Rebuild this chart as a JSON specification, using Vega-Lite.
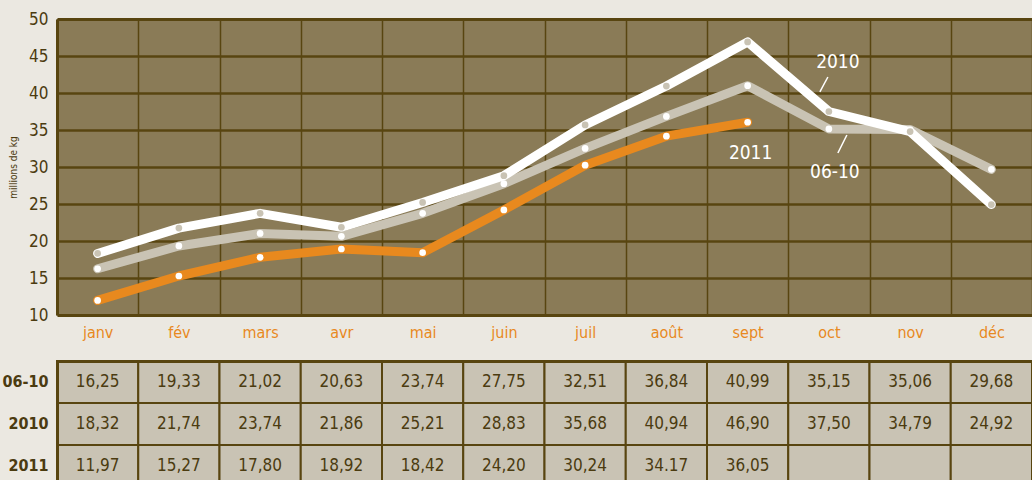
{
  "$schema": "https://vega.github.io/schema/vega-lite/v6.json",
  "background": "#ebe8e1",
  "padding": {"left": 1, "top": 10, "right": 0, "bottom": 0},
  "spacing": 46,
  "bounds": "flush",
  "config": {
    "view": {"stroke": null},
    "font": "DejaVu Sans Condensed, sans-serif"
  },
  "datasets": {
    "d": [
      {"month": "janv", "series": "06-10", "value": 16.25, "label": "16,25"},
      {"month": "fév", "series": "06-10", "value": 19.33, "label": "19,33"},
      {"month": "mars", "series": "06-10", "value": 21.02, "label": "21,02"},
      {"month": "avr", "series": "06-10", "value": 20.63, "label": "20,63"},
      {"month": "mai", "series": "06-10", "value": 23.74, "label": "23,74"},
      {"month": "juin", "series": "06-10", "value": 27.75, "label": "27,75"},
      {"month": "juil", "series": "06-10", "value": 32.51, "label": "32,51"},
      {"month": "août", "series": "06-10", "value": 36.84, "label": "36,84"},
      {"month": "sept", "series": "06-10", "value": 40.99, "label": "40,99"},
      {"month": "oct", "series": "06-10", "value": 35.15, "label": "35,15"},
      {"month": "nov", "series": "06-10", "value": 35.06, "label": "35,06"},
      {"month": "déc", "series": "06-10", "value": 29.68, "label": "29,68"},
      {"month": "janv", "series": "2010", "value": 18.32, "label": "18,32"},
      {"month": "fév", "series": "2010", "value": 21.74, "label": "21,74"},
      {"month": "mars", "series": "2010", "value": 23.74, "label": "23,74"},
      {"month": "avr", "series": "2010", "value": 21.86, "label": "21,86"},
      {"month": "mai", "series": "2010", "value": 25.21, "label": "25,21"},
      {"month": "juin", "series": "2010", "value": 28.83, "label": "28,83"},
      {"month": "juil", "series": "2010", "value": 35.68, "label": "35,68"},
      {"month": "août", "series": "2010", "value": 40.94, "label": "40,94"},
      {"month": "sept", "series": "2010", "value": 46.90, "label": "46,90"},
      {"month": "oct", "series": "2010", "value": 37.50, "label": "37,50"},
      {"month": "nov", "series": "2010", "value": 34.79, "label": "34,79"},
      {"month": "déc", "series": "2010", "value": 24.92, "label": "24,92"},
      {"month": "janv", "series": "2011", "value": 11.97, "label": "11,97"},
      {"month": "fév", "series": "2011", "value": 15.27, "label": "15,27"},
      {"month": "mars", "series": "2011", "value": 17.80, "label": "17,80"},
      {"month": "avr", "series": "2011", "value": 18.92, "label": "18,92"},
      {"month": "mai", "series": "2011", "value": 18.42, "label": "18,42"},
      {"month": "juin", "series": "2011", "value": 24.20, "label": "24,20"},
      {"month": "juil", "series": "2011", "value": 30.24, "label": "30,24"},
      {"month": "août", "series": "2011", "value": 34.17, "label": "34.17"},
      {"month": "sept", "series": "2011", "value": 36.05, "label": "36,05"},
      {"month": "oct", "series": "2011", "value": null, "label": ""},
      {"month": "nov", "series": "2011", "value": null, "label": ""},
      {"month": "déc", "series": "2011", "value": null, "label": ""}
    ]
  },
  "vconcat": [
    {
      "width": 975,
      "height": 296,
      "view": {"fill": "#8a7b57", "stroke": null},
      "data": {"name": "d"},
      "encoding": {
        "x": {
          "field": "month",
          "type": "nominal",
          "scale": {"domain": ["janv","fév","mars","avr","mai","juin","juil","août","sept","oct","nov","déc"], "paddingInner": 0, "paddingOuter": 0},
          "axis": {
            "title": null, "orient": "bottom", "grid": true, "tickBand": "extent",
            "gridColor": "#584510", "gridWidth": 1.5, "ticks": false, "domain": false,
            "labelColor": "#e8891e", "labelFontSize": 16, "labelFontWeight": 500, "labelPadding": 9, "labelAngle": 0
          }
        },
        "y": {
          "field": "value",
          "type": "quantitative",
          "scale": {"domain": [10, 50], "nice": false, "zero": false},
          "axis": {
            "values": [10, 15, 20, 25, 30, 35, 40, 45, 50],
            "grid": true, "gridColor": "#584510",
            "gridWidth": {"condition": {"test": "datum.value === 10 || datum.value === 50", "value": 3}, "value": 2.5},
            "domain": true, "domainColor": "#584510", "domainWidth": 3,
            "ticks": false, "labelFontSize": 17, "labelColor": "#4b3b10", "labelPadding": 9,
            "title": "millions de kg", "titleFontSize": 10, "titleFontWeight": "normal",
            "titleColor": "#4b3b10", "titlePadding": 10
          }
        }
      },
      "layer": [
        {"transform": [{"filter": "datum.series === '06-10'"}], "mark": {"type": "line", "color": "#c9c3b4", "strokeWidth": 9, "strokeCap": "round", "strokeJoin": "round"}},
        {"transform": [{"filter": "datum.series === '06-10'"}], "mark": {"type": "circle", "color": "#ffffff", "size": 45, "opacity": 1}},
        {"transform": [{"filter": "datum.series === '2010'"}], "mark": {"type": "line", "color": "#ffffff", "strokeWidth": 9, "strokeCap": "round", "strokeJoin": "round"}},
        {"transform": [{"filter": "datum.series === '2010'"}], "mark": {"type": "circle", "color": "#c9c3b4", "size": 45, "opacity": 1}},
        {"transform": [{"filter": "datum.series === '2011' && datum.value != null"}], "mark": {"type": "line", "color": "#e8891e", "strokeWidth": 9, "strokeCap": "round", "strokeJoin": "round"}},
        {"transform": [{"filter": "datum.series === '2011' && datum.value != null"}], "mark": {"type": "circle", "color": "#ffffff", "size": 45, "opacity": 1}},
        {"data": {"values": [{"month": "oct", "value": 44.2, "label": "2010"}]}, "mark": {"type": "text", "color": "#ffffff", "fontSize": 19, "dx": 9}, "encoding": {"text": {"field": "label"}}},
        {"data": {"values": [{"month": "oct", "value": 29.3, "label": "06-10"}]}, "mark": {"type": "text", "color": "#ffffff", "fontSize": 19, "dx": 6}, "encoding": {"text": {"field": "label"}}},
        {"data": {"values": [{"month": "sept", "value": 31.9, "label": "2011"}]}, "mark": {"type": "text", "color": "#ffffff", "fontSize": 19, "dx": 3}, "encoding": {"text": {"field": "label"}}},
        {"data": {"values": [{"month": "oct", "value": 42.16, "value2": 40.14}]}, "mark": {"type": "rule", "color": "#ffffff", "strokeWidth": 1.5, "xOffset": -1, "x2Offset": -9}, "encoding": {"x": {"field": "month", "type": "nominal", "bandPosition": 0.5}, "x2": {"field": "month", "bandPosition": 0.5}, "y2": {"field": "value2"}}},
        {"data": {"values": [{"month": "oct", "value": 34.32, "value2": 31.89}]}, "mark": {"type": "rule", "color": "#ffffff", "strokeWidth": 1.5, "xOffset": 18, "x2Offset": 9}, "encoding": {"x": {"field": "month", "type": "nominal", "bandPosition": 0.5}, "x2": {"field": "month", "bandPosition": 0.5}, "y2": {"field": "value2"}}}
      ]
    },
    {
      "width": 975,
      "height": 126,
      "view": {"fill": "#c9c3b4", "stroke": null},
      "data": {"name": "d"},
      "encoding": {
        "x": {
          "field": "month",
          "type": "nominal",
          "scale": {"domain": ["janv","fév","mars","avr","mai","juin","juil","août","sept","oct","nov","déc"], "paddingInner": 0, "paddingOuter": 0},
          "axis": {"orient": "top", "labels": false, "ticks": false, "domain": true, "domainWidth": 3, "domainColor": "#584510", "title": null, "grid": false, "zindex": 1}
        },
        "y": {
          "field": "series",
          "type": "nominal",
          "scale": {"domain": ["06-10", "2010", "2011"], "paddingInner": 0, "paddingOuter": 0},
          "axis": {"orient": "left", "ticks": false, "domain": true, "domainWidth": 3, "domainColor": "#584510", "title": null, "grid": false, "zindex": 1, "labelFontSize": 16, "labelFontWeight": "bold", "labelColor": "#4b3b10", "labelPadding": 9}
        }
      },
      "layer": [
        {"mark": {"type": "rect", "fill": "#c9c3b4", "stroke": "#584510", "strokeWidth": 2}},
        {"mark": {"type": "text", "color": "#4b3b10", "fontSize": 17}, "encoding": {"text": {"field": "label"}}}
      ]
    }
  ]
}
